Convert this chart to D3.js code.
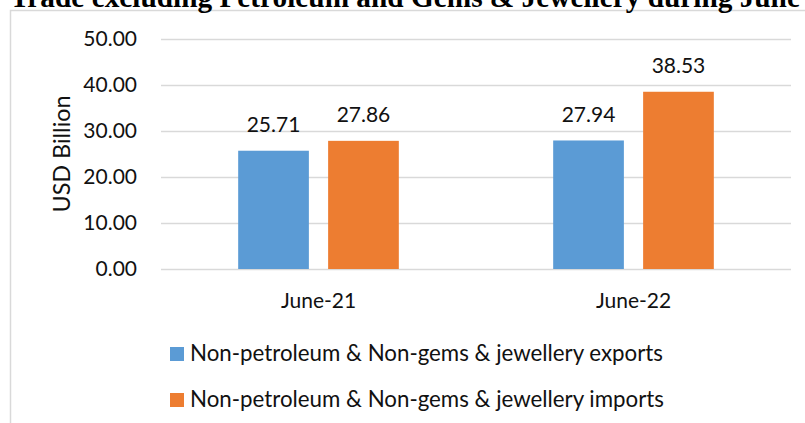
<!DOCTYPE html>
<html>
<head>
<meta charset="utf-8">
<script src="https://cdn.jsdelivr.net/npm/d3@7"></script>
<style>
    body { margin: 0; background: #fff; }
    svg { display: block; }
    .axisY text, .axisX text { font-family: Lato, sans-serif; font-size: 21px; fill: #111; }
</style>
</head>
<body>
<section id="visualization-1"><svg></svg></section>
<script>
var categories = ['June-21', 'June-22'];
var seriesNames = ['Non-petroleum & Non-gems & jewellery exports',
                   'Non-petroleum & Non-gems & jewellery imports'];
var exportsValues = [25.71, 27.94];
var importsValues = [27.86, 38.53];
var yTicks = [0, 10, 20, 30, 40, 50];
var titleText = 'Trade excluding Petroleum and Gems & Jewellery during June';
var yLabel = 'USD Billion';

var input = {'width': 805, 'height': 423},
    canvas = setUpSvgCanvas(input);

drawChart(canvas);

function drawChart(canvas) {
    var svg = canvas.svg;
    var color = setUpColors().domain(seriesNames);

    // frame of the chart area, partly running off the page
    svg.append('rect')
        .attr('x', 10.5)
        .attr('y', 10.5)
        .attr('width', 820)
        .attr('height', 440)
        .attr('fill', 'none')
        .attr('stroke', '#d9d9d9')
        .attr('stroke-width', 1.5);

    // title is clipped at the top in the original
    svg.append('text')
        .attr('x', 10)
        .attr('y', 7)
        .attr('font-family', '"Liberation Serif", serif')
        .attr('font-weight', 'bold')
        .attr('font-size', '29.3px')
        .text(titleText);

    var scales = initializeScales(),
        x0 = scales.x0,
        x1 = scales.x1,
        y = scales.y;

    initializeAxis(svg, x0, y);

    // one row per bar
    var barData = [];
    categories.forEach(function(c, i) {
        barData.push({cat: c, series: seriesNames[0], value: exportsValues[i]});
        barData.push({cat: c, series: seriesNames[1], value: importsValues[i]});
    });

    var bar = svg.selectAll('.bar')
        .data(barData)
        .enter().append('g')
        .attr('class', 'bar')
        .attr('transform', function(d) { return 'translate(' + x0(d.cat) + ',0)'; });

    bar.append('rect')
        .attr('x', function(d) { return x1(d.series); })
        .attr('y', function(d) { return y(d.value); })
        .attr('width', x1.bandwidth())
        .attr('height', function(d) { return y(0) - y(d.value); })
        .attr('fill', function(d) { return color(d.series); });

    bar.append('text')
        .attr('x', function(d) { return x1(d.series) + x1.bandwidth() / 2; })
        .attr('y', function(d) { return y(d.value) - 18.5; })
        .attr('text-anchor', 'middle')
        .attr('font-family', 'Lato, sans-serif')
        .attr('font-size', '21px')
        .attr('fill', '#111')
        .text(function(d) { return d3.format('.2f')(d.value); });

    // y axis title
    svg.append('text')
        .attr('transform', 'translate(69.5,154) rotate(-90)')
        .attr('text-anchor', 'middle')
        .attr('font-family', 'Lato, sans-serif')
        .attr('font-size', '23.4px')
        .attr('fill', '#111')
        .text(yLabel);

    // legend
    var legend = svg.selectAll('.legend')
        .data(seriesNames)
        .enter().append('g')
        .attr('class', 'legend')
        .attr('transform', function(d, i) { return 'translate(170,' + (347 + 46 * i) + ')'; });

    legend.append('rect')
        .attr('width', 14)
        .attr('height', 14)
        .attr('fill', function(d) { return color(d); });

    legend.append('text')
        .attr('x', 20)
        .attr('y', 14)
        .attr('font-family', 'Lato, sans-serif')
        .attr('font-size', '22.3px')
        .attr('fill', '#111')
        .text(function(d) { return d; });
}

function initializeScales() {
    var x0 = d3.scaleBand()
        .domain(categories)
        .range([161, 791])
        .paddingInner(0.49)
        .paddingOuter(0.245);

    var x1 = d3.scaleBand()
        .domain(seriesNames)
        .range([0, x0.bandwidth()])
        .paddingInner(0.214);

    var y = d3.scaleLinear()
        .domain([0, 50])
        .range([269, 39]);

    return {x0: x0, x1: x1, y: y};
}

function initializeAxis(svg, x0, y) {
    var yAxis = d3.axisLeft(y)
        .tickValues(yTicks)
        .tickSize(-630)
        .tickPadding(24)
        .tickFormat(d3.format('.2f'));

    svg.append('g')
        .attr('class', 'axisY')
        .attr('transform', 'translate(161,0)')
        .call(yAxis)
        .call(function(g) { g.select('.domain').remove(); })
        .call(function(g) {
            g.selectAll('.tick line')
                .attr('stroke', '#d9d9d9')
                .attr('stroke-width', 1.5);
        });

    svg.append('g')
        .attr('class', 'axisX')
        .attr('transform', 'translate(0,' + y(0) + ')')
        .call(d3.axisBottom(x0).tickSize(0).tickPadding(24))
        .call(function(g) { g.select('.domain').remove(); });
}

function setUpSvgCanvas(input) {
    var svg = d3.select('section#visualization-1')
        .select('svg')
        .attr('width', input.width)
        .attr('height', input.height);

    return {svg: svg, width: input.width, height: input.height};
}

function setUpColors() {
    return d3.scaleOrdinal().range(['#5b9bd5', '#ed7d31']);
}
</script>
</body>
</html>
